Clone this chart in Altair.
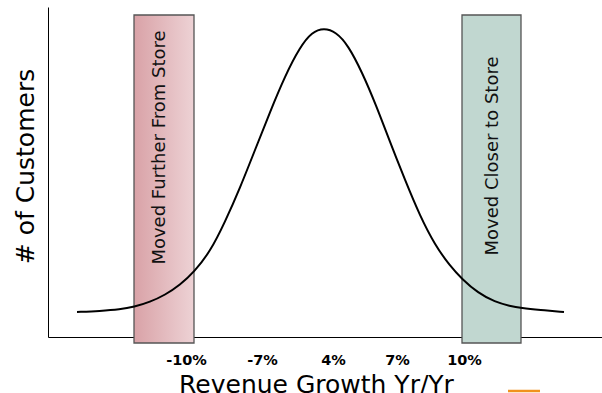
import altair as alt
import pandas as pd

# Curve (x in px-units from y-axis, y in px-units above x-axis)
curve_x = [29, 52, 72, 86, 102, 117, 132, 146, 162, 177, 192, 207, 222, 237, 252, 264,
           276, 288, 300, 314, 328, 342, 357, 372, 387, 402, 414, 430, 447, 462, 473, 492, 516]
curve_y = [25, 26, 27.5, 30, 35, 42, 52, 65, 85, 115, 149, 187, 225, 261, 290, 305,
           309, 305, 292, 265, 232, 195, 157, 121, 92, 71, 58, 44, 35, 31, 29, 27, 25]

# Boxes
box_names = ["Moved Further From Store", "Moved Closer to Store"]
box_x1 = [86, 414]
box_x2 = [146, 473]
box_y1 = [-6, -6]
box_y2 = [322, 322]
label_x = [117, 449.5]
label_y = [189.5, 181]

# Tick labels
tick_pos = [138, 214, 285, 349, 416]
tick_labels = ["-10%", "-7%", "4%", "7%", "10%"]

# stray orange mark
orange_x = [460]
orange_x2 = [492]
orange_y = [-54]

curve_df = pd.DataFrame({"x": curve_x, "y": curve_y})
box_df = pd.DataFrame({"name": box_names, "x1": box_x1, "x2": box_x2,
                       "y1": box_y1, "y2": box_y2, "lx": label_x, "ly": label_y})
orange_df = pd.DataFrame({"x": orange_x, "x2": orange_x2, "y": orange_y})

label_map = "{" + ",".join(f"'{p}':'{l}'" for p, l in zip(tick_pos, tick_labels)) + "}"

xscale = alt.Scale(domain=[0, 554], nice=False, zero=False)
yscale = alt.Scale(domain=[0, 330], nice=False, zero=False)

x_axis = alt.Axis(values=tick_pos, labelExpr=f"{label_map}[datum.value]", ticks=False,
                  grid=False, domainColor="#000", domainWidth=1,
                  labelFont="DejaVu Sans", labelFontWeight="bold", labelFontSize=14.5,
                  labelColor="#000", labelPadding=16,
                  title="Revenue Growth Yr/Yr", titleFont="DejaVu Sans", titleFontSize=25,
                  titleFontWeight="normal", titleColor="#000",
                  titleX=268, titleY=55, titleAlign="center", titleBaseline="alphabetic")
y_axis = alt.Axis(ticks=False, labels=False, grid=False, domainColor="#000", domainWidth=1,
                  title="# of Customers", titleFont="DejaVu Sans", titleFontSize=25,
                  titleFontWeight="normal", titleColor="#000",
                  titleX=-15, titleY=159, titleAngle=-90, titleAlign="center",
                  titleBaseline="alphabetic")

curve = alt.Chart(curve_df).mark_line(color="#000", strokeWidth=2, interpolate="basis").encode(
    x=alt.X("x:Q", scale=xscale, axis=x_axis),
    y=alt.Y("y:Q", scale=yscale, axis=y_axis),
)

left_grad = alt.Gradient(gradient="linear", x1=0, x2=1, y1=0, y2=0,
                         stops=[alt.GradientStop(color="#d9a2a7", offset=0),
                                alt.GradientStop(color="#edd2d5", offset=1)])
right_grad = alt.Gradient(gradient="linear", x1=0, x2=1, y1=0, y2=0,
                          stops=[alt.GradientStop(color="#c1d7d0", offset=0),
                                 alt.GradientStop(color="#c1d7d0", offset=1)])

def box(idx, grad):
    return alt.Chart(box_df.iloc[[idx]]).mark_rect(
        fill=grad, stroke="#555", strokeWidth=1.3
    ).encode(
        x=alt.X("x1:Q", scale=xscale), x2="x2:Q",
        y=alt.Y("y1:Q", scale=yscale), y2="y2:Q",
    )

labels = alt.Chart(box_df).mark_text(
    angle=270, font="DejaVu Sans", fontSize=18, color="#111", align="center",
    baseline="alphabetic"
).encode(
    x=alt.X("lx:Q", scale=xscale), y=alt.Y("ly:Q", scale=yscale), text="name:N"
)

orange = alt.Chart(orange_df).mark_rule(color="#f0921e", strokeWidth=2.5).encode(
    x=alt.X("x:Q", scale=xscale), x2="x2:Q", y=alt.Y("y:Q", scale=yscale)
)

chart = alt.layer(box(0, left_grad), box(1, right_grad), curve, labels, orange).properties(
    width=554, height=330,
    autosize=alt.AutoSizeParams(type="none"),
    padding={"left": 48, "top": 7, "right": 0, "bottom": 56},
    background="white",
).configure_view(stroke=None)

chart.save("out.html", embed_options={"renderer": "svg", "actions": False})
